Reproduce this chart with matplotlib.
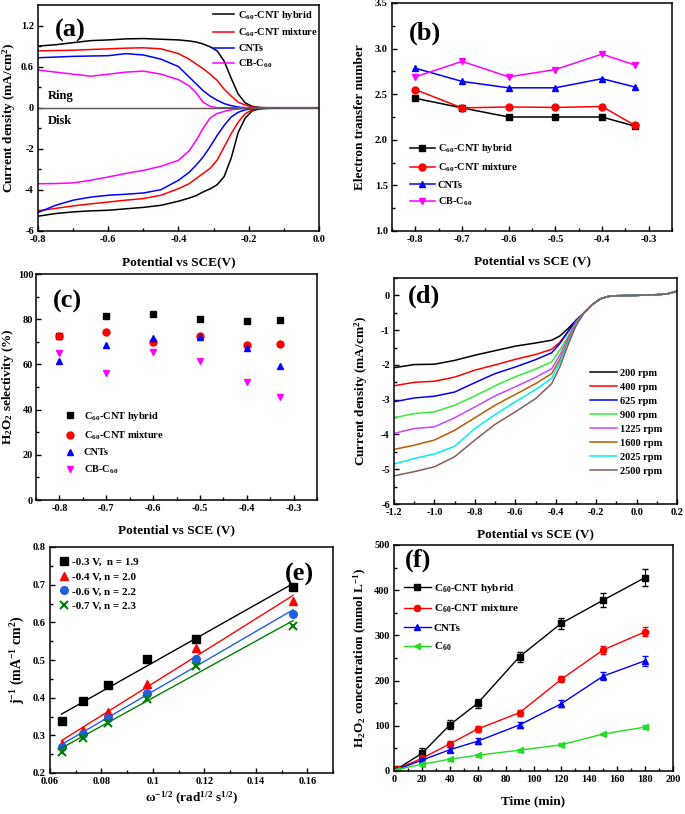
import numpy as np
import matplotlib
matplotlib.use("Agg")
import matplotlib.pyplot as plt
from matplotlib.ticker import MultipleLocator, FixedLocator

plt.rcParams['font.family'] = ['Liberation Serif', 'DejaVu Serif']
plt.rcParams['font.weight'] = 'bold'
plt.rcParams['axes.labelweight'] = 'bold'
plt.rcParams['mathtext.fontset'] = 'custom'
plt.rcParams['mathtext.rm'] = 'Liberation Serif:bold'
plt.rcParams['mathtext.bf'] = 'Liberation Serif:bold'
plt.rcParams['mathtext.it'] = 'Liberation Serif:bold'
plt.rcParams['axes.unicode_minus'] = False
plt.rcParams['xtick.direction'] = 'in'
plt.rcParams['ytick.direction'] = 'in'
plt.rcParams['axes.linewidth'] = 1.1

# ---------------- data ----------------
# (a) RRDE ring / disk currents
pot_a = [-0.8, -0.75, -0.7, -0.65, -0.6, -0.55, -0.5, -0.45, -0.4, -0.37, -0.35, -0.33,
         -0.31, -0.29, -0.27, -0.25, -0.23, -0.21, -0.19, -0.17, -0.15, -0.1, 0.0]
ring_hybrid = [0.90, 0.92, 0.95, 0.98, 0.99, 1.005, 1.01, 1.00, 0.99, 0.975, 0.96, 0.93,
               0.89, 0.83, 0.68, 0.43, 0.20, 0.07, 0.02, 0.005, 0, 0, 0]
ring_mixture = [0.83, 0.835, 0.84, 0.85, 0.86, 0.87, 0.875, 0.86, 0.79, 0.71, 0.64, 0.57,
                0.49, 0.40, 0.27, 0.17, 0.08, 0.04, 0.01, 0.0, 0, 0, 0]
ring_cnts = [0.73, 0.74, 0.75, 0.755, 0.76, 0.79, 0.77, 0.71, 0.60, 0.45, 0.35, 0.25,
             0.17, 0.11, 0.06, 0.03, 0.01, 0.0, 0, 0, 0, 0, 0]
ring_cb = [0.55, 0.52, 0.49, 0.46, 0.49, 0.52, 0.535, 0.49, 0.41, 0.32, 0.22, 0.08,
           0.02, 0.0, 0, 0, 0, 0, 0, 0, 0, 0, 0]
disk_hybrid = [-5.28, -5.15, -5.07, -5.02, -4.99, -4.92, -4.85, -4.75, -4.55, -4.40, -4.28, -4.10,
               -3.95, -3.75, -3.35, -2.45, -1.20, -0.50, -0.15, -0.06, -0.03, -0.02, -0.02]
disk_mixture = [-5.02, -4.90, -4.78, -4.68, -4.59, -4.50, -4.42, -4.26, -3.94, -3.70, -3.45, -3.20,
                -2.95, -2.55, -1.91, -1.26, -0.70, -0.29, -0.10, -0.04, -0.03, -0.02, -0.02]
disk_cnts = [-5.10, -4.75, -4.50, -4.35, -4.26, -4.21, -4.15, -3.99, -3.53, -3.15, -2.80, -2.40,
             -1.90, -1.35, -0.86, -0.45, -0.22, -0.10, -0.05, -0.03, -0.02, -0.02, -0.02]
disk_cb = [-3.70, -3.69, -3.66, -3.53, -3.37, -3.20, -3.05, -2.85, -2.56, -2.10, -1.60, -1.00,
           -0.50, -0.28, -0.18, -0.10, -0.06, -0.04, -0.03, -0.02, -0.02, -0.02, -0.02]
labels_a = ['C$_{60}$-CNT hybrid', 'C$_{60}$-CNT mixture', 'CNTs', 'CB-C$_{60}$']
ring_ticks = [0.6, 1.2]
disk_ticks = [-6, -4, -2, 0]

# (b) electron transfer number, (c) H2O2 selectivity
pot_bc = [-0.8, -0.7, -0.6, -0.5, -0.4, -0.33]
n_hybrid = [2.455, 2.35, 2.25, 2.25, 2.25, 2.15]
n_mixture = [2.55, 2.35, 2.36, 2.355, 2.365, 2.16]
n_cnts = [2.785, 2.64, 2.57, 2.57, 2.67, 2.58]
n_cb = [2.69, 2.86, 2.69, 2.77, 2.94, 2.82]
sel_hybrid = [72.4, 81.5, 82.3, 80.2, 79.3, 79.6]
sel_mixture = [72.7, 74.2, 69.9, 72.7, 68.7, 69.0]
sel_cnts = [61.4, 68.7, 71.9, 72.2, 67.4, 59.4]
sel_cb = [65.0, 56.4, 65.3, 61.4, 52.4, 45.6]

# (d) LSV at different rotation rates
pot_d = [-1.2, -1.1, -1.0, -0.9, -0.8, -0.7, -0.6, -0.5, -0.42, -0.38, -0.34, -0.3,
         -0.26, -0.22, -0.18, -0.14, -0.1, 0.0, 0.1, 0.15, 0.2]
rpm_labels = ['200 rpm', '400 rpm', '625 rpm', '900 rpm', '1225 rpm', '1600 rpm', '2025 rpm', '2500 rpm']
j_200 = [-2.08, -1.99, -1.98, -1.87, -1.72, -1.59, -1.46, -1.37, -1.29, -1.17, -0.96, -0.72,
         -0.50, -0.27, -0.10, -0.03, -0.01, 0.0, 0.02, 0.04, 0.12]
j_400 = [-2.60, -2.50, -2.47, -2.35, -2.15, -2.00, -1.84, -1.70, -1.55, -1.35, -1.05, -0.75,
         -0.50, -0.27, -0.10, -0.03, -0.01, 0.0, 0.02, 0.04, 0.12]
j_625 = [-3.06, -2.95, -2.90, -2.78, -2.51, -2.25, -2.06, -1.85, -1.65, -1.39, -1.05, -0.72,
         -0.50, -0.27, -0.10, -0.03, -0.01, 0.0, 0.02, 0.04, 0.12]
j_900 = [-3.52, -3.40, -3.35, -3.16, -2.89, -2.60, -2.34, -2.12, -1.91, -1.58, -1.18, -0.77,
         -0.50, -0.27, -0.10, -0.03, -0.01, 0.0, 0.02, 0.04, 0.12]
j_1225 = [-3.97, -3.83, -3.78, -3.52, -3.21, -2.89, -2.63, -2.36, -2.11, -1.72, -1.24, -0.79,
          -0.50, -0.27, -0.10, -0.03, -0.01, 0.0, 0.02, 0.04, 0.12]
j_1600 = [-4.43, -4.31, -4.16, -3.88, -3.52, -3.16, -2.85, -2.54, -2.25, -1.85, -1.32, -0.83,
          -0.50, -0.27, -0.10, -0.03, -0.01, 0.0, 0.02, 0.04, 0.12]
j_2025 = [-4.85, -4.69, -4.56, -4.34, -3.83, -3.43, -3.06, -2.71, -2.39, -1.93, -1.37, -0.86,
          -0.50, -0.27, -0.10, -0.03, -0.01, 0.0, 0.02, 0.04, 0.12]
j_2500 = [-5.19, -5.07, -4.93, -4.64, -4.16, -3.71, -3.35, -2.97, -2.54, -2.06, -1.44, -0.88,
          -0.50, -0.27, -0.10, -0.03, -0.01, 0.0, 0.02, 0.04, 0.12]

# (e) Koutecky-Levich
omega_inv = [0.0645, 0.0727, 0.0825, 0.0977, 0.1168, 0.1545]
kl_03 = [0.337, 0.390, 0.434, 0.502, 0.557, 0.695]
kl_04 = [0.278, 0.315, 0.363, 0.436, 0.531, 0.657]
kl_06 = [0.270, 0.303, 0.347, 0.412, 0.503, 0.621]
kl_07 = [0.257, 0.293, 0.334, 0.397, 0.485, 0.590]
labels_e = ['-0.3 V,  n = 1.9', '-0.4 V, n = 2.0', '-0.6 V, n = 2.2', '-0.7 V, n = 2.3']
xticklabels_e = ['0.06', '0.08', '0.1', '0.12', '0.14', '0.16']

# (f) H2O2 production
time_f = [2, 20, 40, 60, 90, 120, 150, 180]
c_hybrid = [4, 39, 102, 150, 253, 327, 378, 428]
c_mixture = [4, 28, 60, 93, 129, 203, 268, 308]
c_cnts = [3, 24, 47, 66, 102, 149, 210, 244]
c_c60 = [3, 15, 26, 35, 46, 58, 82, 97]
e_hybrid = [3, 11, 10, 10, 11, 12, 15, 18]
e_mixture = [2, 5, 6, 6, 7, 7, 9, 10]
e_cnts = [2, 5, 6, 6, 7, 8, 9, 11]
e_c60 = [2, 3, 3, 3, 3, 3, 3, 4]
labels_f = ['C$_{60}$-CNT hybrid', 'C$_{60}$-CNT mixture', 'CNTs', 'C$_{60}$']

# ---------------- figure ----------------
W, H = 685, 814
fig = plt.figure(figsize=(W / 100, H / 100), dpi=100)


def add_ax(l, r, t, b):
    return fig.add_axes([l / W, 1 - b / H, (r - l) / W, (b - t) / H])


TICK_FS = 7.5
LAB_FS = 9.5
LEG_FS = 7.5
PAN_FS = 19
cols4 = ['black', 'red', 'blue', 'magenta']


def style(ax):
    ax.tick_params(which='both', top=False, right=False, labelsize=TICK_FS, width=1)
    ax.tick_params(which='major', length=3.5, pad=3)
    ax.tick_params(which='minor', length=2)
    for lab in ax.get_xticklabels() + ax.get_yticklabels():
        lab.set_fontweight('bold')


# (a)
ax = add_ax(38, 319, 5, 231)
k = 10 / 3
for ring, disk, c, lab in zip([ring_hybrid, ring_mixture, ring_cnts, ring_cb],
                              [disk_hybrid, disk_mixture, disk_cnts, disk_cb], cols4, labels_a):
    ax.plot(pot_a, np.array(ring) * k, color=c, lw=1.1, label=lab)
    ax.plot(pot_a, disk, color=c, lw=1.1)
ax.axhline(0, color='#555555', lw=1.0)
ax.set_xlim(-0.8, 0.0)
ax.set_ylim(-6, 5)
ax.set_xticks(np.arange(-0.8, 0.01, 0.2))
ax.set_xticklabels(['-0.8', '-0.6', '-0.4', '-0.2', '0.0'])
ax.xaxis.set_minor_locator(MultipleLocator(0.1))
yt = disk_ticks + [v * k for v in ring_ticks]
ax.set_yticks(yt)
ax.set_yticklabels([str(v) for v in disk_ticks] + [str(v) for v in ring_ticks])
ax.yaxis.set_minor_locator(FixedLocator([-5, -3, -1, 0.3 * k, 0.9 * k]))
ax.set_xlabel('Potential vs SCE(V)', fontsize=LAB_FS, labelpad=9)
ax.set_ylabel('Current density (mA/cm$^2$)', fontsize=LAB_FS, labelpad=2)
ax.text(-0.773, 0.3, 'Ring', fontsize=9, fontweight='bold', va='bottom')
ax.text(-0.773, -0.35, 'Disk', fontsize=9, fontweight='bold', va='top')
ax.text(0.06, 0.94, '(a)', transform=ax.transAxes, fontsize=PAN_FS, fontweight='bold', va='top')
ax.legend(loc='upper right', bbox_to_anchor=(1.02, 1.01), frameon=False, fontsize=LEG_FS,
          handlelength=2.0, labelspacing=0.45, handletextpad=0.4, borderaxespad=0.2)
style(ax)

# (b)
ax = add_ax(392, 672, 3, 231)
mk = ['s', 'o', '^', 'v']
for y, c, m, lab in zip([n_hybrid, n_mixture, n_cnts, n_cb], cols4, mk, labels_a):
    ax.plot(pot_bc, y, color=c, marker=m, ms=5, lw=1.1, label=lab)
ax.set_xlim(-0.85, -0.25)
ax.set_ylim(1.0, 3.5)
ax.set_xticks(np.arange(-0.8, -0.29, 0.1))
ax.set_xticklabels(['-0.8', '-0.7', '-0.6', '-0.5', '-0.4', '-0.3'])
ax.xaxis.set_minor_locator(MultipleLocator(0.05))
ax.yaxis.set_major_locator(MultipleLocator(0.5))
ax.yaxis.set_minor_locator(MultipleLocator(0.25))
ax.set_yticklabels(['%.1f' % v for v in ax.get_yticks()])
ax.set_xlabel('Potential vs SCE (V)', fontsize=LAB_FS, labelpad=8)
ax.set_ylabel('Electron transfer number', fontsize=LAB_FS, labelpad=6)
ax.text(0.06, 0.92, '(b)', transform=ax.transAxes, fontsize=PAN_FS, fontweight='bold', va='top')
ax.legend(loc='upper left', bbox_to_anchor=(0.03, 0.43), frameon=False, fontsize=LEG_FS,
          handlelength=2.4, labelspacing=0.6, handletextpad=0.3)
style(ax)

# (c)
ax = add_ax(36, 317, 274, 500)
for y, c, m, lab in zip([sel_hybrid, sel_mixture, sel_cnts, sel_cb], cols4, mk, labels_a):
    ax.plot(pot_bc, y, color=c, marker=m, ms=5, lw=0, ls='none', label=lab)
ax.set_xlim(-0.85, -0.25)
ax.set_ylim(0, 100)
ax.set_xticks(np.arange(-0.8, -0.29, 0.1))
ax.set_xticklabels(['-0.8', '-0.7', '-0.6', '-0.5', '-0.4', '-0.3'])
ax.xaxis.set_minor_locator(MultipleLocator(0.05))
ax.yaxis.set_major_locator(MultipleLocator(20))
ax.yaxis.set_minor_locator(MultipleLocator(10))
ax.set_xlabel('Potential vs SCE (V)', fontsize=LAB_FS, labelpad=8)
ax.set_ylabel('H$_2$O$_2$ selectivity (%)', fontsize=LAB_FS, labelpad=1)
ax.text(0.06, 0.93, '(c)', transform=ax.transAxes, fontsize=PAN_FS, fontweight='bold', va='top')
ax.legend(loc='upper left', bbox_to_anchor=(0.07, 0.44), frameon=False, fontsize=LEG_FS,
          handlelength=1.0, labelspacing=0.6, handletextpad=0.8)
style(ax)
ax.tick_params(axis='y', pad=2)

# (d)
ax = add_ax(394, 677, 278, 504)
cols_d = ['black', 'red', 'blue', '#33ee33', '#cc44ff', '#b85c00', '#00f0f0', '#8c5a5a']
for y, c, lab in zip([j_200, j_400, j_625, j_900, j_1225, j_1600, j_2025, j_2500], cols_d, rpm_labels):
    ax.plot(pot_d, y, color=c, lw=1.1, label=lab)
ax.set_xlim(-1.2, 0.2)
ax.set_ylim(-6, 0.5)
ax.set_xticks(np.arange(-1.2, 0.21, 0.2))
ax.set_xticklabels(['-1.2', '-1.0', '-0.8', '-0.6', '-0.4', '-0.2', '0.0', '0.2'])
ax.xaxis.set_minor_locator(MultipleLocator(0.1))
ax.set_yticks(range(-6, 1))
ax.set_yticklabels([str(v) for v in range(-6, 1)])
ax.yaxis.set_minor_locator(MultipleLocator(0.5))
ax.set_xlabel('Potential vs SCE (V)', fontsize=LAB_FS, labelpad=8)
ax.set_ylabel('Current density (mA/cm$^2$)', fontsize=LAB_FS, labelpad=8)
ax.text(0.05, 0.97, '(d)', transform=ax.transAxes, fontsize=PAN_FS, fontweight='bold', va='top')
ax.legend(loc='upper left', bbox_to_anchor=(0.66, 0.64), frameon=False, fontsize=LEG_FS,
          handlelength=2.6, labelspacing=0.45, handletextpad=0.3)
style(ax)

# (e)
ax = add_ax(50, 333, 547, 773)
cols_e = ['black', 'red', '#1f5fe0', 'green']
mk_e = ['s', '^', 'o', 'x']
xs = np.array(omega_inv)
for y, c, m, lab in zip([kl_03, kl_04, kl_06, kl_07], cols_e, mk_e, labels_e):
    ax.plot(xs, y, ls='none', marker=m, color=c, ms=5.5 if m != 'x' else 6,
            mew=1.5 if m == 'x' else 1, label=lab)
    p = np.polyfit(xs, y, 1)
    ax.plot(xs[[0, -1]], np.polyval(p, xs[[0, -1]]), color=c, lw=1.0)
ax.set_xlim(0.06, 0.17)
ax.set_ylim(0.2, 0.8)
ax.set_xticks(np.arange(0.06, 0.161, 0.02))
ax.set_xticklabels(xticklabels_e)
ax.xaxis.set_minor_locator(MultipleLocator(0.01))
ax.yaxis.set_major_locator(MultipleLocator(0.1))
ax.yaxis.set_minor_locator(MultipleLocator(0.05))
ax.set_yticklabels(['%.1f' % v for v in ax.get_yticks()])
ax.set_xlabel('ω$^{-1/2}$ (rad$^{1/2}$ s$^{1/2}$)', fontsize=LAB_FS, labelpad=3)
ax.set_ylabel('j$^{-1}$ (mA$^{-1}$ cm$^2$)', fontsize=LAB_FS + 0.5, labelpad=4)
ax.text(0.83, 0.93, '(e)', transform=ax.transAxes, fontsize=PAN_FS, fontweight='bold', va='top')
ax.legend(loc='upper left', bbox_to_anchor=(0.0, 1.0), frameon=False, fontsize=LEG_FS + 0.5,
          handlelength=0.8, labelspacing=0.45, handletextpad=0.3)
style(ax)

# (f)
ax = add_ax(394, 673, 545, 771)
cols_f = ['black', 'red', 'blue', '#22dd22']
mk_f = ['s', 'o', '^', '<']
for y, e, c, m, lab in zip([c_hybrid, c_mixture, c_cnts, c_c60], [e_hybrid, e_mixture, e_cnts, e_c60],
                           cols_f, mk_f, labels_f):
    ax.errorbar(time_f, y, yerr=e, color=c, fmt='none', capsize=2.5, elinewidth=0.8)
    ax.plot(time_f, y, color=c, marker=m, ms=4.5, lw=1.0, label=lab)
ax.set_xlim(0, 200)
ax.set_ylim(0, 500)
ax.xaxis.set_major_locator(MultipleLocator(20))
ax.xaxis.set_minor_locator(MultipleLocator(10))
ax.yaxis.set_major_locator(MultipleLocator(100))
ax.yaxis.set_minor_locator(MultipleLocator(50))
ax.set_xlabel('Time (min)', fontsize=LAB_FS, labelpad=8)
ax.set_ylabel('H$_2$O$_2$ concentration (mmol L$^{-1}$)', fontsize=LAB_FS, labelpad=4)
ax.text(0.04, 0.985, '(f)', transform=ax.transAxes, fontsize=PAN_FS, fontweight='bold', va='top')
ax.legend(loc='upper left', bbox_to_anchor=(0.0, 0.88), frameon=False, fontsize=LEG_FS + 0.5,
          handlelength=2.4, labelspacing=0.7, handletextpad=0.3)
style(ax)

fig.savefig('out.png', dpi=100)
